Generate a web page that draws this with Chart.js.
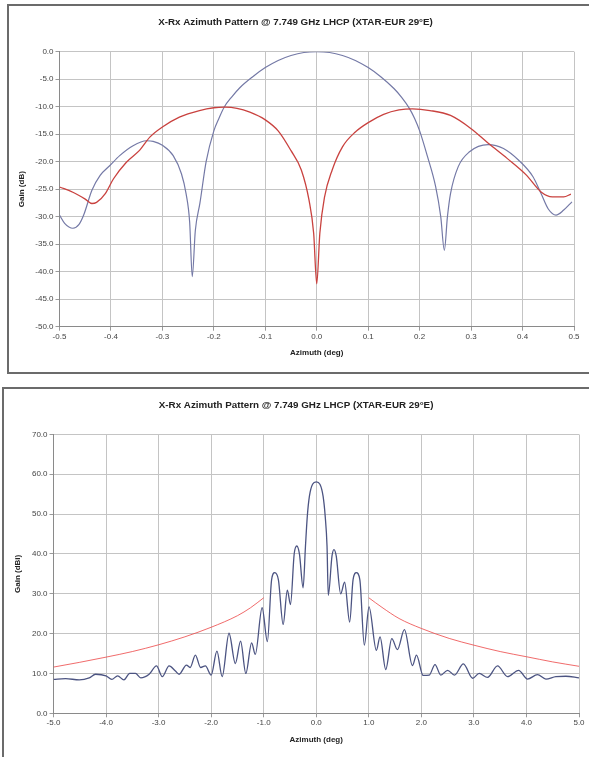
<!DOCTYPE html>
<html>
<head>
<meta charset="utf-8">
<script src="https://cdn.jsdelivr.net/npm/chart.js@4.4.1/dist/chart.umd.min.js"></script>
<style>
  html, body { margin: 0; padding: 0; background: #fff; overflow: hidden; width: 589px; height: 757px; }
  .box { position: absolute; border: 2px solid #6b6b6b; box-sizing: border-box; }
  #box1 { left: 7px; top: 4px; width: 600px; height: 370px; }
  #box2 { left: 2px; top: 387px; width: 600px; height: 400px; }
  .wrap { position: absolute; left: 0; width: 589px; }
  #wrap1 { top: 0; height: 380px; }
  #wrap2 { top: 380px; height: 377px; }
</style>
</head>
<body>
<div class="box" id="box1"></div>
<div class="box" id="box2"></div>
<div class="wrap" id="wrap1"><canvas id="nearChart" width="589" height="380"></canvas></div>
<div class="wrap" id="wrap2"><canvas id="wideChart" width="589" height="377"></canvas></div>
<script>
// ── Data ─────────────────────────────────────────────────────
const TITLE = 'X-Rx Azimuth Pattern @ 7.749 GHz LHCP (XTAR-EUR 29°E)';

// top chart: normalised pattern, ±0.5 deg
const nearCoAz   = [-0.5, -0.49, -0.474, -0.462, -0.453, -0.437, -0.421, -0.402, -0.383, -0.357, -0.331, -0.318, -0.3, -0.279, -0.263, -0.254, -0.247, -0.242, -0.236, -0.227, -0.215, -0.2, -0.19, -0.18, -0.165, -0.15, -0.125, -0.1, -0.075, -0.05, -0.025, 0, 0.025, 0.05, 0.075, 0.1, 0.125, 0.15, 0.165, 0.18, 0.19, 0.2, 0.215, 0.231, 0.241, 0.248, 0.254, 0.26, 0.275, 0.297, 0.333, 0.363, 0.392, 0.42, 0.436, 0.45, 0.465, 0.48, 0.496];
const nearCoGain = [-29.7, -31.2, -32.1, -31.4, -29.7, -25.2, -22.5, -20.7, -18.9, -17.1, -16.2, -16.3, -17.0, -18.9, -22.2, -25.8, -31.0, -40.9, -32.5, -27.5, -20.0, -14.4, -12.1, -10.1, -8.2, -6.6, -4.6, -2.9, -1.6, -0.7, -0.15, 0.0, -0.15, -0.7, -1.6, -2.9, -4.6, -6.7, -8.3, -10.3, -12.1, -14.4, -19.0, -24.5, -30.0, -36.1, -30.0, -25.8, -20.9, -18.2, -16.9, -17.6, -19.7, -22.7, -25.8, -28.6, -29.7, -28.8, -27.3];

const nearXAz   = [-0.5, -0.473, -0.45, -0.437, -0.428, -0.411, -0.395, -0.37, -0.344, -0.324, -0.3, -0.267, -0.228, -0.2, -0.179, -0.155, -0.13, -0.1, -0.075, -0.05, -0.03, -0.015, -0.006, 0, 0.006, 0.015, 0.03, 0.05, 0.075, 0.1, 0.13, 0.16, 0.186, 0.22, 0.26, 0.3, 0.334, 0.37, 0.407, 0.436, 0.458, 0.48, 0.494];
const nearXGain = [-24.6, -25.6, -26.8, -27.6, -27.4, -25.8, -23.1, -20.1, -17.9, -15.5, -13.7, -11.9, -10.7, -10.2, -10.1, -10.3, -11.0, -12.4, -14.4, -18.0, -21.5, -27.0, -33.0, -42.2, -33.0, -26.5, -21.5, -17.3, -14.6, -12.9, -11.4, -10.6, -10.4, -10.7, -11.6, -14.0, -16.7, -19.4, -22.4, -25.5, -26.4, -26.4, -25.9];

// bottom chart: absolute gain, ±5 deg
const wideCoAz   = [-5.0, -4.77, -4.51, -4.32, -4.2, -4.0, -3.89, -3.78, -3.66, -3.55, -3.44, -3.34, -3.18, -3.04, -2.93, -2.8, -2.68, -2.61, -2.47, -2.4, -2.3, -2.2, -2.11, -2.0, -1.89, -1.79, -1.66, -1.54, -1.44, -1.34, -1.23, -1.16, -1.03, -0.93, -0.85, -0.79, -0.72, -0.63, -0.55, -0.49, -0.42, -0.37, -0.32, -0.25, -0.205, -0.17, -0.13, -0.07, 0, 0.07, 0.13, 0.17, 0.205, 0.229, 0.30, 0.337, 0.38, 0.464, 0.54, 0.636, 0.70, 0.763, 0.83, 0.915, 1.004, 1.144, 1.214, 1.322, 1.437, 1.545, 1.678, 1.831, 1.907, 2.034, 2.15, 2.26, 2.37, 2.5, 2.63, 2.8, 2.975, 3.1, 3.26, 3.45, 3.64, 3.85, 4.02, 4.21, 4.37, 4.56, 4.75, 5.0];
const wideCoGain = [8.5, 8.7, 8.4, 8.9, 9.8, 9.4, 8.5, 9.4, 8.4, 10.0, 10.0, 8.9, 9.8, 11.9, 9.2, 11.9, 10.6, 9.8, 12.1, 11.5, 14.6, 11.5, 11.9, 9.6, 15.6, 9.2, 20.1, 12.5, 18.1, 10.0, 17.7, 14.8, 26.5, 18.0, 33.5, 35.3, 33.5, 22.3, 30.9, 27.3, 40.0, 42.0, 40.0, 31.5, 42.0, 49.5, 54.5, 57.5, 58.1, 57.5, 54.5, 49.5, 42.0, 29.6, 39.5, 41.1, 39.5, 30.0, 32.9, 22.9, 33.5, 35.3, 33.5, 17.1, 26.7, 15.8, 19.2, 11.0, 18.75, 16.0, 21.0, 12.0, 14.6, 9.5, 9.6, 12.2, 9.6, 10.8, 9.6, 12.4, 8.8, 10.0, 9.0, 11.9, 9.2, 10.8, 8.6, 9.7, 8.6, 9.2, 9.3, 8.9];

const maskAzL   = [-5.0, -4.5, -4.0, -3.5, -3.0, -2.5, -2.0, -1.5, -1.25, -1.0];
const maskGainL = [11.6, 12.8, 14.1, 15.5, 17.2, 19.2, 21.6, 24.5, 26.5, 29.0];
const maskAzR   = [1.0, 1.25, 1.576, 2.0, 2.53, 3.0, 3.5, 4.0, 4.5, 5.0];
const maskGainR = [29.0, 26.6, 23.8, 21.3, 18.8, 17.1, 15.5, 14.2, 12.9, 11.8];

// ── Helpers ───────────────────────────────────────────────────
const FONT = "'Liberation Sans', Arial, sans-serif";
const toPts = (xs, ys) => xs.map((x, i) => ({ x, y: ys[i] }));
const fmt1 = (v) => (Math.abs(v) < 1e-9 ? 0 : v).toFixed(1);

function lineSet(xs, ys, color, width) {
  return {
    data: toPts(xs, ys),
    showLine: true,
    borderColor: color,
    borderWidth: width,
    pointRadius: 0,
    cubicInterpolationMode: 'monotone',
    fill: false,
  };
}

function makeChart(id, datasets, cfg) {
  const grid = { color: '#c4c4c4', lineWidth: 1, tickLength: 4, tickColor: '#9a9a9a' };
  const tickFont = { family: FONT, size: 8 };
  const axisTitleFont = { family: FONT, size: 8, weight: 'bold' };
  return new Chart(document.getElementById(id), {
    type: 'scatter',
    data: { datasets },
    options: {
      responsive: false,
      animation: false,
      layout: { padding: cfg.padding },
      plugins: {
        legend: { display: false },
        tooltip: { enabled: false },
        title: {
          display: true,
          text: TITLE,
          color: '#222',
          font: { family: FONT, size: 9.8, weight: 'bold' },
          padding: cfg.titlePad,
        },
      },
      scales: {
        x: {
          type: 'linear',
          min: cfg.xMin, max: cfg.xMax,
          grid,
          border: { color: '#8a8a8a' },
          ticks: { stepSize: cfg.xStep, font: tickFont, color: '#444', padding: 1, maxRotation: 0, callback: fmt1 },
          title: { display: true, text: 'Azimuth (deg)', font: axisTitleFont, color: '#222', padding: 0 },
          afterFit: (s) => { s.height = cfg.xHeight; },
        },
        y: {
          min: cfg.yMin, max: cfg.yMax,
          grid,
          border: { color: '#8a8a8a' },
          ticks: { stepSize: cfg.yStep, font: tickFont, color: '#444', padding: 2, callback: fmt1 },
          title: { display: true, text: cfg.yTitle, font: axisTitleFont, color: '#222', padding: 0 },
          afterFit: (s) => { s.width = cfg.yWidth; },
        },
      },
    },
  });
}

// ── Top: ±0.5 deg ─────────────────────────────────────────────
makeChart('nearChart', [
  lineSet(nearXAz, nearXGain, '#c9423f', 1.3),
  lineSet(nearCoAz, nearCoGain, '#7479a6', 1.2),
], {
  padding: { top: 0, left: 17, right: 15, bottom: 22 },
  titlePad: { top: 16.8, bottom: 23.1 },
  xMin: -0.5, xMax: 0.5, xStep: 0.1, xHeight: 31.3,
  yMin: -50, yMax: 0, yStep: 5, yWidth: 42.5,
  yTitle: 'Gain (dB)',
});

// ── Bottom: ±5 deg ────────────────────────────────────────────
makeChart('wideChart', [
  lineSet(maskAzL, maskGainL, 'rgba(236,70,70,0.8)', 1),
  lineSet(maskAzR, maskGainR, 'rgba(236,70,70,0.8)', 1),
  lineSet(wideCoAz, wideCoGain, '#4c5482', 1.3),
], {
  padding: { top: 0, left: 13.2, right: 10, bottom: 12.2 },
  titlePad: { top: 19.1, bottom: 23.6 },
  xMin: -5, xMax: 5, xStep: 1, xHeight: 31.5,
  yMin: 0, yMax: 70, yStep: 10, yWidth: 40.3,
  yTitle: 'Gain (dBi)',
});
</script>
</body>
</html>
